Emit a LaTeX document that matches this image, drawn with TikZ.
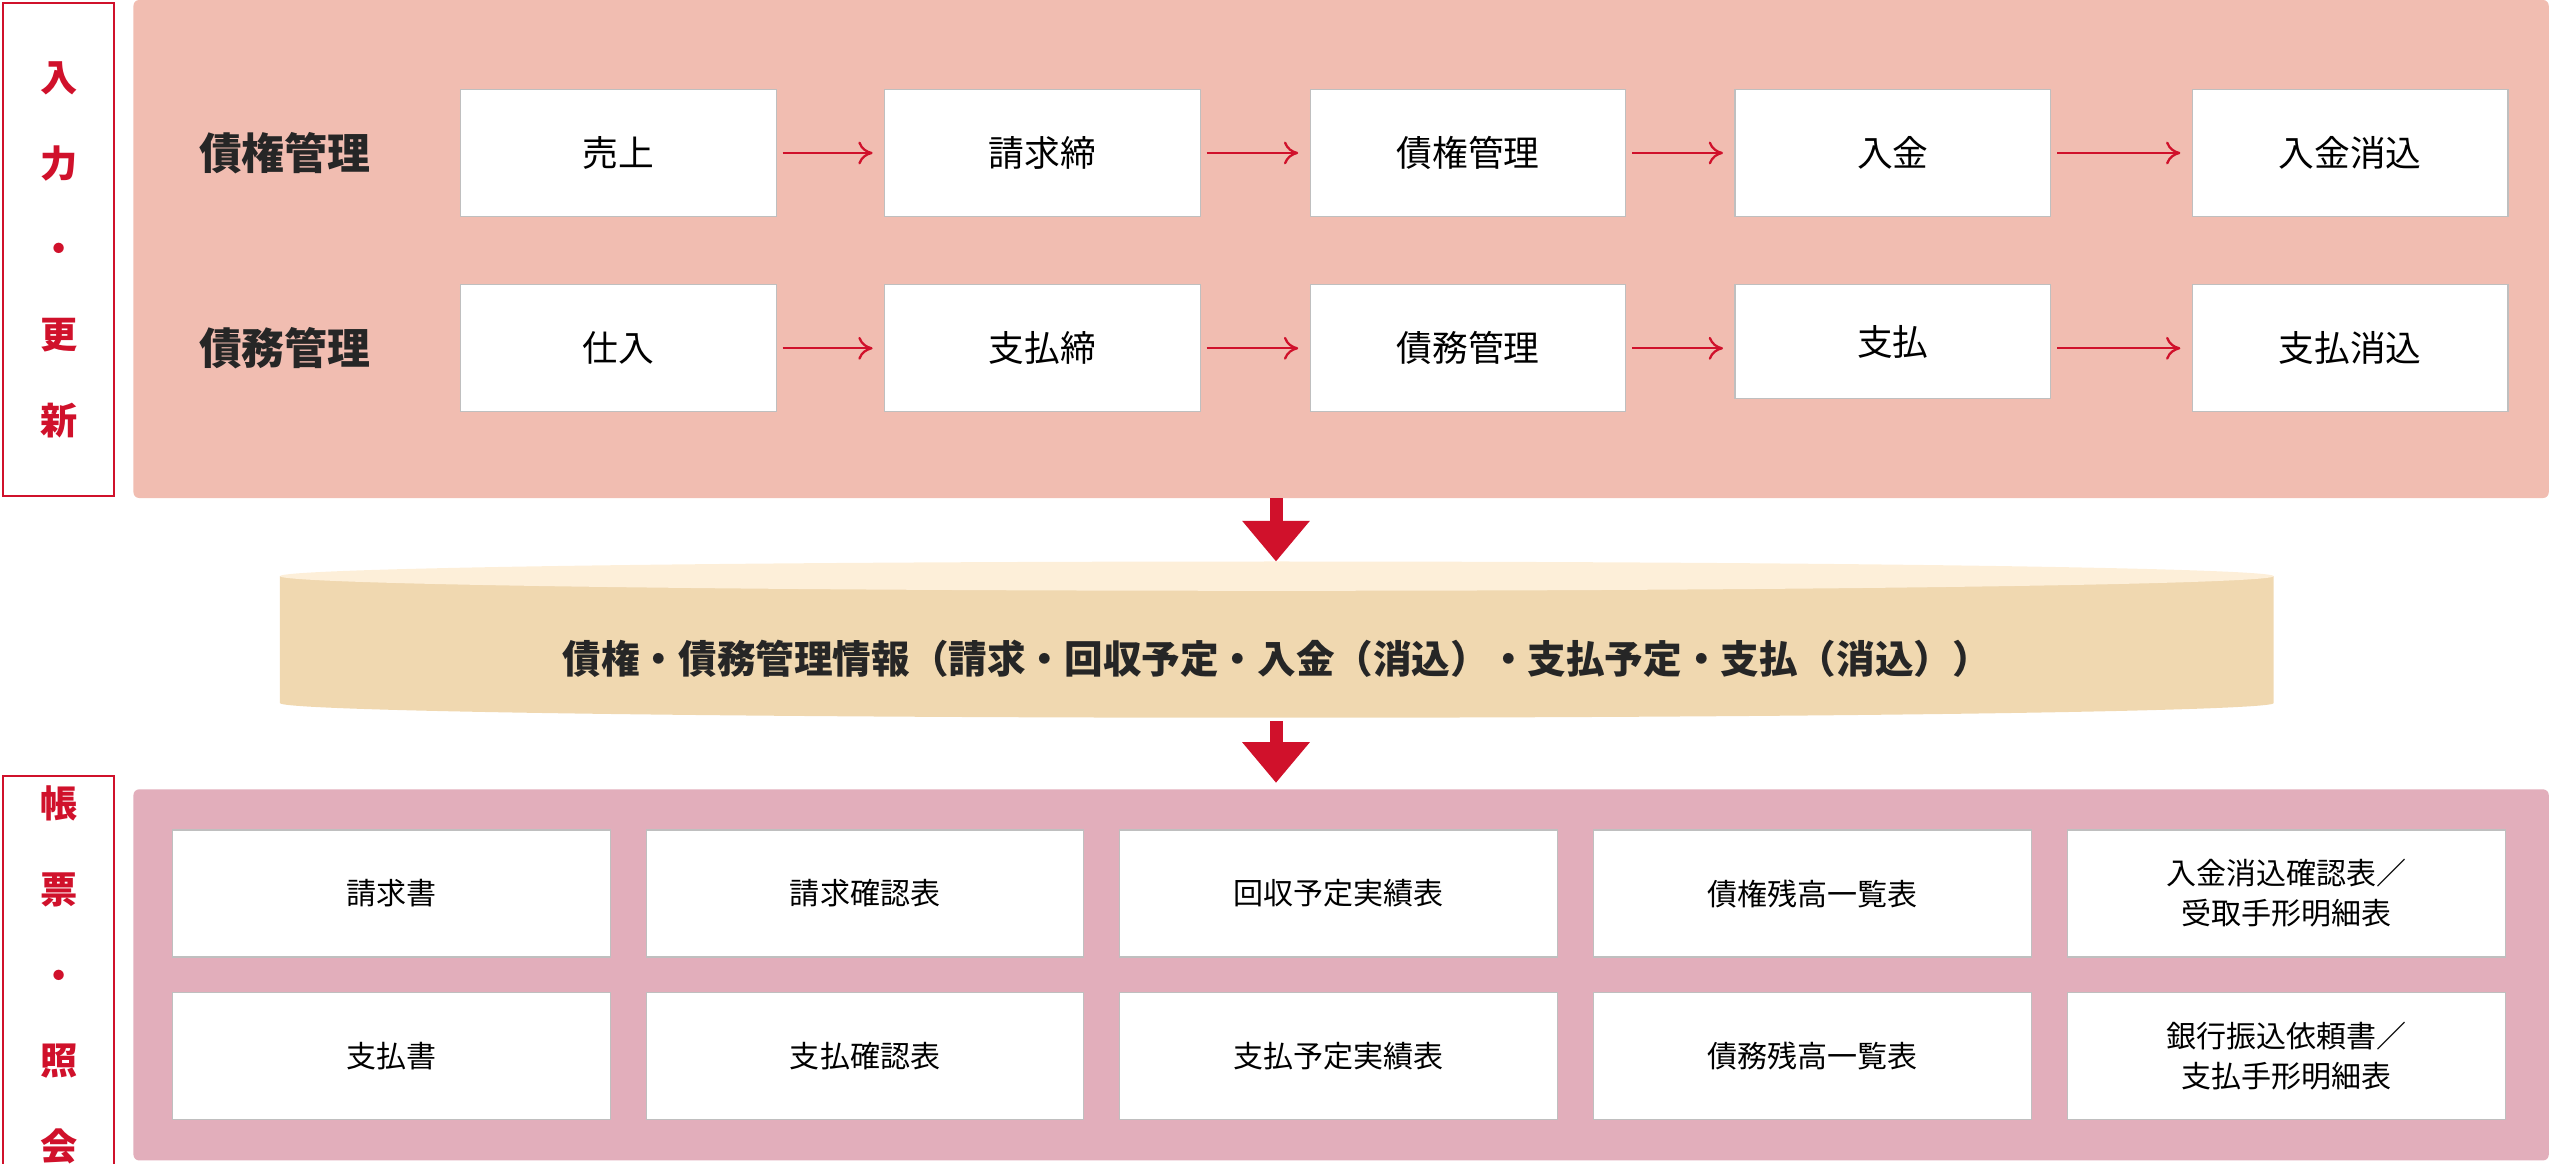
\documentclass[tikz,border=0pt]{standalone}
\usepackage{fontspec}
\setmainfont{Noto Sans CJK JP}
\usetikzlibrary{arrows.meta,positioning}
\definecolor{inred}{HTML}{D0112B}
\definecolor{toppanel}{HTML}{F1BDB1}
\definecolor{botpanel}{HTML}{E2AEBB}
\definecolor{dbbody}{HTML}{F0D8B0}
\definecolor{dbtop}{HTML}{FDEFD9}
\tikzset{
  box/.style={draw=black!25, fill=white, minimum width=3.88cm, minimum height=1.56cm, font=\fontsize{12.5}{14}\selectfont},
  sheet/.style={draw=black!25, fill=white, minimum width=5.38cm, minimum height=1.56cm, align=center, font=\fontsize{10.5}{14}\selectfont},
  side/.style={draw=inred, fill=white, line width=0.7pt, text=inred, align=center, font=\bfseries\fontsize{13}{30}\selectfont},
  flow/.style={draw=inred, line width=0.8pt, -{To[length=5pt,width=8pt]}, shorten >=4pt, shorten <=2pt},
  drop/.style={draw=inred, line width=0.16cm, -{Triangle[width=0.8cm,length=0.5cm]}},
  rowtitle/.style={font=\bfseries\fontsize{15}{18}\selectfont, text=black!85}
}
\begin{document}
\begin{tikzpicture}[x=0.02cm,y=-0.02cm]
\useasboundingbox (0,0) rectangle (1568,715);
% panels
\fill[toppanel, rounded corners=2pt] (82,0) rectangle (1566,306);
\fill[botpanel, rounded corners=2pt] (82,485) rectangle (1566,713);
\node[side, minimum width=1.36cm, minimum height=6.06cm] (inlabel) at (36,153.5) {入\\力\\・\\更\\新};
\node[side, minimum width=1.36cm, minimum height=4.56cm] (outlabel) at (36,599) {帳\\票\\・\\照\\会};
% row titles
\node[rowtitle] (t1) at (175,94) {債権管理};
\node[rowtitle] (t2) at (175,214) {債務管理};
% receivables
\node[box] (a1) at (380,94) {売上};
\node[box] (a2) at (640.5,94) {請求締};
\node[box] (a3) at (902,94) {債権管理};
\node[box] (a4) at (1163,94) {入金};
\node[box] (a5) at (1444,94) {入金消込};
% payables
\node[box] (b1) at (380,214) {仕入};
\node[box] (b2) at (640.5,214) {支払締};
\node[box] (b3) at (902,214) {債務管理};
\node[box, minimum height=1.4cm] (b4) at (1163,210) {支払};
\node[box] (b5) at (1444,214) {支払消込};
\foreach \i/\j in {1/2,2/3,3/4,4/5} {
  \draw[flow] (a\i) -- (a\j);
  \draw[flow] (b\i.east |- b1) -- (b\j.west |- b1);
}
% database
\coordinate (dbin) at (784,306);
\coordinate (dbtopc) at (784,345);
\fill[dbbody] (172,354) -- (172,432) arc[start angle=180,end angle=360,x radius=612.5,y radius=-9] -- (1397,354) -- cycle;
\fill[dbtop] (784.5,354) ellipse[x radius=612.5,y radius=9];
\node[font=\bfseries\fontsize{13.5}{16}\selectfont, text=black!85] (db) at (784.5,405) {債権・債務管理情報（請求・回収予定・入金（消込）・支払予定・支払（消込））};
\coordinate (dbout) at (784,443);
\coordinate (dbend) at (784,481);
\draw[drop] (dbin) -- (dbtopc);
\draw[drop] (dbout) -- (dbend);
% reports
\node[sheet] (r1) at (240.5,549) {請求書};
\node[sheet] (r2) at (531.5,549) {請求確認表};
\node[sheet] (r3) at (822.5,549) {回収予定実績表};
\node[sheet] (r4) at (1113.5,549) {債権残高一覧表};
\node[sheet] (r5) at (1405,549) {入金消込確認表／\\受取手形明細表};
\node[sheet] (s1) at (240.5,649) {支払書};
\node[sheet] (s2) at (531.5,649) {支払確認表};
\node[sheet] (s3) at (822.5,649) {支払予定実績表};
\node[sheet] (s4) at (1113.5,649) {債務残高一覧表};
\node[sheet] (s5) at (1405,649) {銀行振込依頼書／\\支払手形明細表};
\end{tikzpicture}
\end{document}
